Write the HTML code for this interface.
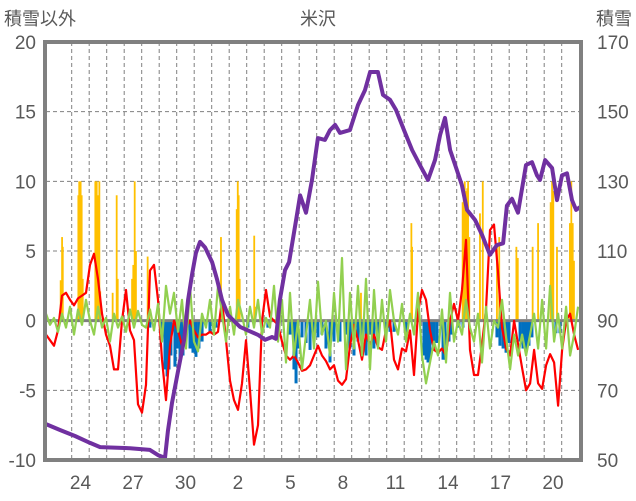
<!DOCTYPE html>
<html><head><meta charset="utf-8"><style>
html,body{margin:0;padding:0;background:#fff;}
svg{display:block;font-family:"Liberation Sans","Noto Sans CJK JP",sans-serif;}
</style></head><body>
<svg id="chart" width="636" height="501" viewBox="0 0 636 501" xmlns="http://www.w3.org/2000/svg">
<text x="318" y="25" font-size="18" fill="#595959" text-anchor="middle">米沢</text>
<text x="4" y="25" font-size="18" fill="#595959">積雪以外</text>
<text x="632" y="25" font-size="18" fill="#595959" text-anchor="end">積雪</text>
<g id="grid"></g>
<g id="bars"></g>
<g id="lines"></g>
<g id="axes"></g>
</svg>
<script>
// ---- data ----
const leftTicks = [-10,-5,0,5,10,15,20];
const rightTicks = [50,70,90,110,130,150,170];
const dayLabels = ["24","27","30","2","5","8","11","14","17","20"];
const dayLabelPos = [1,4,7,10,13,16,19,22,25,28]; // day index from Jan 23
const dayCount = 30;
// regular series (red temp, green) start time and step in days
const seriesStart = -0.469;
const seriesStep = 0.2286;
const redValues = [-1,-1.4,-1.8,-0.7,1.8,2,1.5,1.1,1.6,1.8,2,4,4.8,3,0.5,-1,-1.8,-3.5,-3.5,0,2.2,-0.7,-1.4,-6,-6.6,-4.6,3.6,4,1.5,-2.8,-5.7,-1.8,0,-0.7,-1.8,-0.5,0,-0.7,-1.2,-1,-1,-0.8,-1,-0.8,1.5,-1.4,-4.3,-5.7,-6.4,-4.5,-1.4,-5,-8.9,-7.5,0,2.2,0.3,0,-0.3,-1.5,-2.5,-2.8,-2.5,-3,-3.6,-3.5,-3.2,-2.5,-1.8,-2.5,-2.9,-3.5,-3.2,-4.3,-4.6,-4.2,-1.8,-0.3,-1.4,-2.8,-1,-1.7,-1,-1.9,-2.1,-0.7,0,-2.8,-3.5,-2,-2.2,-0.7,-3.9,0.6,2.2,1.5,-0.7,-2.1,-2.3,-2,-2.5,0,1.2,0,2.2,5.8,-2.1,-3.9,-3.9,-1.7,0.8,6.5,6.9,3.5,-0.5,-2,-2.5,0,-1.7,-3.4,-5,-4.5,-2.1,-4.5,-4.9,-3.2,-2.4,-3,-6.1,-2.1,0,0.5,-1,-2.1];
const greenValues = [0.5,-0.3,0.2,-0.8,0.5,-0.5,1,-1,0.8,-0.3,1.5,0,-1,1,-0.5,0.2,-1.5,0.5,-0.5,0.3,-0.8,0.8,-0.5,0.7,-0.3,-0.5,0.8,-0.7,1.2,-1.5,2.5,0.5,2,-0.8,1.5,-2,2.5,-1.5,-2.2,0.5,-0.5,1.5,-1,2.5,0.5,-1.5,1,-1,1.5,0.4,-1,1,-0.5,1.5,-1,0.2,-0.5,2.5,-1.5,1.5,-3,2,-2.5,0,-3.5,-1,1.5,-2,2.8,-1,0,-2.5,2,-1.5,4.5,-3.5,2,-2,2.5,-2.5,3,-3.5,2.2,-2,1.5,-1.5,2.2,0,-1,1.2,-1.5,0.5,-1,2,-2.5,-4.5,-3,-1.5,-2.5,0.8,-3,2,-1.5,0,-1,1.5,-0.5,-1.5,0.5,-3,1,-2,0,-0.5,1.5,-1.2,-3.5,-1,-2.5,-1,-2.5,-1,0.5,-2,1.5,-2,2.5,-1.5,0.5,-2,1,-2.5,-1,1];
// snow depth (right axis)
const snowDays = [-0.47,0.33,1.19,2.05,2.62,4.33,5.47,5.93,6.33,6.5,6.73,7.07,7.42,7.65,7.87,8.1,8.33,8.62,9.02,9.3,9.59,9.93,10.62,11.65,12.05,12.45,12.67,12.9,13.19,13.42,13.82,14.05,14.39,14.73,15.07,15.47,15.76,16.05,16.33,16.9,17.36,17.76,18.05,18.5,18.79,19.19,19.53,19.99,20.45,20.9,21.36,21.76,22.05,22.33,22.62,22.97,23.3,23.59,24.05,24.45,24.9,25.3,25.65,25.87,26.16,26.5,26.96,27.3,27.59,27.76,28.05,28.45,28.73,29.02,29.3,29.59,29.82,30.05];
const snowValues = [60.3,58.6,56.9,54.9,53.7,53.4,52.9,51.4,50.6,58.3,66.4,75.3,84.5,96,103,109.4,112.6,111,106.8,102,96,91.6,88.2,85.9,84.5,85.3,84.8,96,104.5,106.8,118.9,126,121,130.4,142.4,141.9,144.7,146.2,143.9,144.7,151.9,156.2,161.4,161.4,154.8,153.4,150.5,144.7,139,134.7,130.4,136.1,143.3,148.2,139,133.8,128.9,121.8,118.9,114.6,108.9,111.7,112.2,123,125,121,134.7,135.5,131.7,130.4,136.1,133.8,124.6,131.7,132.3,124.6,121.8,122.6];
// precipitation bars (yellow)
const precipDays = [0.37,0.45,0.49,1.38,1.43,1.51,1.57,1.63,2.35,2.43,2.5,2.58,2.63,3.34,3.57,3.63,4.45,4.52,4.6,4.67,5.34,5.43,9.53,10.43,10.49,10.54,10.6,11.43,11.49,17.53,20.41,20.45,23.34,23.4,23.46,23.55,23.6,23.65,23.72,24.33,24.49,25.3,25.43,26.41,26.49,27.34,27.65,28.37,28.45,28.52,28.73,29.47,29.55,29.63,29.7];
const precipValues = [2.9,6,5.3,9,10,10,9,3,10,10,9,10,2.1,2,9,3,3,4,10,5,4.6,2.5,6,8,10,9,3,6.1,1,2,7,5.3,8.5,9.5,10,9.3,9.5,10,6,7.7,10,5.3,6,5.3,4.5,5.3,7,8.5,10,9.3,5.3,7,10,7,4.3];
// negative bars (blue)
const negDays = [5.47,6.16,6.33,6.45,6.56,6.67,6.9,7.02,7.19,7.36,7.53,7.76,7.93,8.1,8.27,8.45,8.9,9.25,11.07,12.21,13.47,13.7,13.82,13.93,14.16,14.39,14.62,14.85,15.07,15.3,15.53,15.76,15.99,16.33,16.67,16.9,17.13,17.36,17.59,17.82,18.05,18.27,18.5,18.96,19.19,19.42,20.1,21.13,21.25,21.36,21.47,21.59,21.7,21.87,22.22,22.33,22.56,22.73,23.13,23.36,25.3,25.47,25.65,25.82,25.99,26.62,26.79,26.96,27.13,27.3,28.67,28.9];
const negValues = [-0.5,-1,-3.5,-4,-3.5,-2.5,-3.3,-2,-2.8,-2.5,-1.5,-2,-2.3,-2.6,-2,-1.5,-0.8,-0.5,-0.5,-0.5,-1,-3.5,-4.5,-2,-1.2,-1.6,-2.1,-1.5,-1.2,-1,-2,-3,-1.5,-1.5,-1,-2,-2.5,-1.5,-1.5,-2.5,-1,-2,-1,-0.8,-0.8,-0.8,-1,-2.5,-2.8,-3,-2.8,-1.6,-1.6,-1.6,-2.8,-2.8,-1.5,-1,-0.5,-0.5,-1.2,-1.8,-2,-2.3,-1.6,-1.5,-2,-2.3,-1.8,-1.2,-0.9,-0.9];

// ---- axes ----
const PL=46, PR=580, PT=42, PB=460;
const X0=54.2, DAY=17.5;
function xs(d){return X0 + d*DAY;}
function yl(v){return PB - (v+10)/30*(PB-PT);}
function yr(v){return PB - (v-50)/120*(PB-PT);}
const NS="http://www.w3.org/2000/svg";
function mk(tag, attrs, parent){const e=document.createElementNS(NS,tag);for(const k in attrs)e.setAttribute(k,attrs[k]);parent.appendChild(e);return e;}
const grid=document.getElementById('grid'), bars=document.getElementById('bars'), lines=document.getElementById('lines'), axes=document.getElementById('axes');

for(let d=1; d<dayCount; d++){
  const l=mk('line',{x1:xs(d),x2:xs(d),y1:PT,y2:PB,stroke:'#808080','stroke-width':1,'stroke-dasharray':'4,3'},grid);
  
  
}
leftTicks.forEach(v=>{
  if(v!==0 && v!==-10 && v!==20){
    const l=mk('line',{x1:PL,x2:PR,y1:yl(v),y2:yl(v),stroke:'#808080','stroke-width':1,'stroke-dasharray':'4,3'},grid);
    
    
  }
  const t=mk('text',{x:36,y:yl(v)+7,'font-size':19,fill:'#595959','text-anchor':'end'},axes);
  t.textContent=v;
  
  
});
rightTicks.forEach(v=>{
  const t=mk('text',{x:597,y:yr(v)+7,'font-size':19,fill:'#595959'},axes);
  t.textContent=v;
  
  
});
dayLabels.forEach((s,i)=>{
  const t=mk('text',{x:xs(dayLabelPos[i]+0.5),y:489,'font-size':19,fill:'#595959','text-anchor':'middle'},axes);
  t.textContent=s;
  
  
});

// bars
precipDays.forEach((d,i)=>{
  const y=yl(precipValues[i]);
  const r=mk('rect',{x:xs(d)-0.9,y:y,width:1.8,height:yl(0)-y,fill:'#FFC000'},bars);
  
  
});
negDays.forEach((d,i)=>{
  const y0=yl(0);
  const r=mk('rect',{x:xs(d)-1.5,y:y0,width:3,height:yl(negValues[i])-y0,fill:'#0070C0'},bars);
  
  
});
const zl=mk('line',{x1:PL,x2:PR,y1:yl(0),y2:yl(0),stroke:'#808080','stroke-width':3},bars);



// lines
function pts(vals, f){return vals.map((v,i)=>xs(seriesStart+i*seriesStep).toFixed(1)+','+f(v).toFixed(1)).join(' ');}
const red=mk('polyline',{points:pts(redValues,yl),fill:'none',stroke:'#FF0000','stroke-width':2.2,'stroke-linejoin':'round'},lines);


const green=mk('polyline',{points:pts(greenValues,yl),fill:'none',stroke:'#92D050','stroke-width':2.2,'stroke-linejoin':'round'},lines);


const sp=snowDays.map((d,i)=>Math.min(Math.max(xs(d),PL),PR).toFixed(1)+','+yr(snowValues[i]).toFixed(1)).join(' ');
const snow=mk('polyline',{points:sp,fill:'none',stroke:'#7030A0','stroke-width':4,'stroke-linejoin':'round'},lines);



const frame=mk('rect',{x:PL-1,y:PT,width:PR-PL+2,height:PB-PT,fill:'none',stroke:'#808080','stroke-width':4},axes);


</script>
</body></html>
